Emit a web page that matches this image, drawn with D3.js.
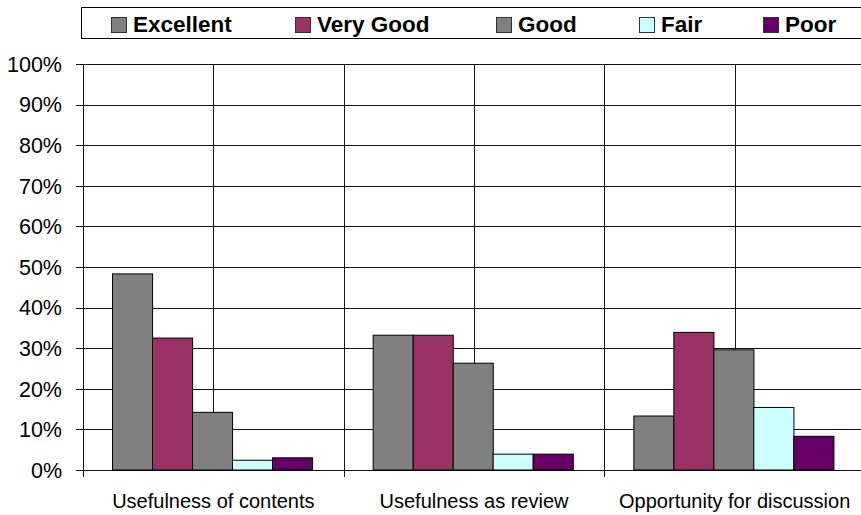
<!DOCTYPE html>
<html>
<head>
<meta charset="utf-8">
<script src="https://cdn.jsdelivr.net/npm/d3@7"></script>
<style>
  body { margin: 0; background: #fff; }
  svg { display: block; font-family: "Liberation Sans", Arial, sans-serif; }
</style>
</head>
<body>
<div id="chart"></div>
<script>
// data
const categories = ["Usefulness of contents", "Usefulness as review", "Opportunity for discussion"];
const seriesNames = ["Excellent", "Very Good", "Good", "Fair", "Poor"];
const excellent = [48.3, 33.2, 13.3];
const veryGood  = [32.5, 33.2, 33.9];
const good      = [14.2, 26.3, 29.6];
const fair      = [2.4, 3.9, 15.4];
const poor      = [3.0, 3.9, 8.3];
const yTicks = [0, 10, 20, 30, 40, 50, 60, 70, 80, 90, 100];

const colors = ["#808080", "#993366", "#808080", "#ccffff", "#660066"];
const series = [excellent, veryGood, good, fair, poor];

const width = 861, height = 515;
const margin = { top: 64, left: 83, bottom: 45 };
const plotRight = 865;

const svg = d3.select("#chart").append("svg")
    .attr("width", width)
    .attr("height", height);

const x0 = d3.scaleBand()
    .domain(categories)
    .range([margin.left, plotRight]);

const x1 = d3.scaleBand()
    .domain(seriesNames)
    .range([0, x0.bandwidth()])
    .paddingOuter(0.75);

const y = d3.scaleLinear()
    .domain([0, 100])
    .range([height - margin.bottom, margin.top]);

const crisp = v => Math.round(v) + 0.5;

// horizontal gridlines
svg.append("g")
    .selectAll("line")
    .data(yTicks)
    .join("line")
    .attr("x1", margin.left - 7)
    .attr("x2", plotRight)
    .attr("y1", d => crisp(y(d)))
    .attr("y2", d => crisp(y(d)))
    .attr("stroke", "#111");

// vertical lines: group boundaries and group centers
const vlines = [];
categories.forEach(c => {
    vlines.push(x0(c));
    vlines.push(x0(c) + x0.bandwidth() / 2);
});
vlines.push(plotRight);
svg.append("g")
    .selectAll("line")
    .data(vlines)
    .join("line")
    .attr("x1", d => crisp(d))
    .attr("x2", d => crisp(d))
    .attr("y1", y(100))
    .attr("y2", y(0))
    .attr("stroke", "#111");

// x axis ticks at boundaries
svg.append("g")
    .selectAll("line")
    .data(categories.map(c => x0(c)).concat([plotRight]))
    .join("line")
    .attr("x1", d => crisp(d))
    .attr("x2", d => crisp(d))
    .attr("y1", y(0))
    .attr("y2", y(0) + 7)
    .attr("stroke", "#111");

// bars
const groups = svg.append("g")
    .selectAll("g")
    .data(categories)
    .join("g")
    .attr("transform", d => `translate(${x0(d) - 1},0)`);

groups.selectAll("rect")
    .data((d, ci) => seriesNames.map((s, si) => ({ s, si, v: series[si][ci] })))
    .join("rect")
    .attr("x", d => Math.round(x1(d.s)) + 0.5)
    .attr("y", d => y(d.v))
    .attr("width", x1.bandwidth())
    .attr("height", d => y(0) - y(d.v))
    .attr("fill", d => colors[d.si])
    .attr("stroke", "#000")
    .attr("stroke-width", 1);

// y tick labels
svg.append("g")
    .selectAll("text")
    .data(yTicks)
    .join("text")
    .attr("x", 62)
    .attr("y", d => y(d))
    .attr("dy", "0.36em")
    .attr("text-anchor", "end")
    .attr("font-size", 21.5)
    .text(d => d + "%");

// category labels
svg.append("g")
    .selectAll("text")
    .data(categories)
    .join("text")
    .attr("x", d => x0(d) + x0.bandwidth() / 2)
    .attr("y", 508)
    .attr("text-anchor", "middle")
    .attr("font-size", 20)
    .text(d => d);

// legend
const legend = svg.append("g");
legend.append("rect")
    .attr("x", 81.5)
    .attr("y", 7.5)
    .attr("width", 800)
    .attr("height", 31)
    .attr("fill", "#fff")
    .attr("stroke", "#000");

const legendX = [111, 295, 496, 639, 763];
const items = legend.selectAll("g.item")
    .data(seriesNames)
    .join("g")
    .attr("class", "item")
    .attr("transform", (d, i) => `translate(${legendX[i]},0)`);

items.append("rect")
    .attr("x", 0.5)
    .attr("y", 17.5)
    .attr("width", 15)
    .attr("height", 15)
    .attr("fill", (d, i) => colors[i])
    .attr("stroke", "#333");

items.append("text")
    .attr("x", 22)
    .attr("y", 32)
    .attr("font-size", 22.5)
    .attr("font-weight", "bold")
    .text(d => d);
</script>
</body>
</html>
